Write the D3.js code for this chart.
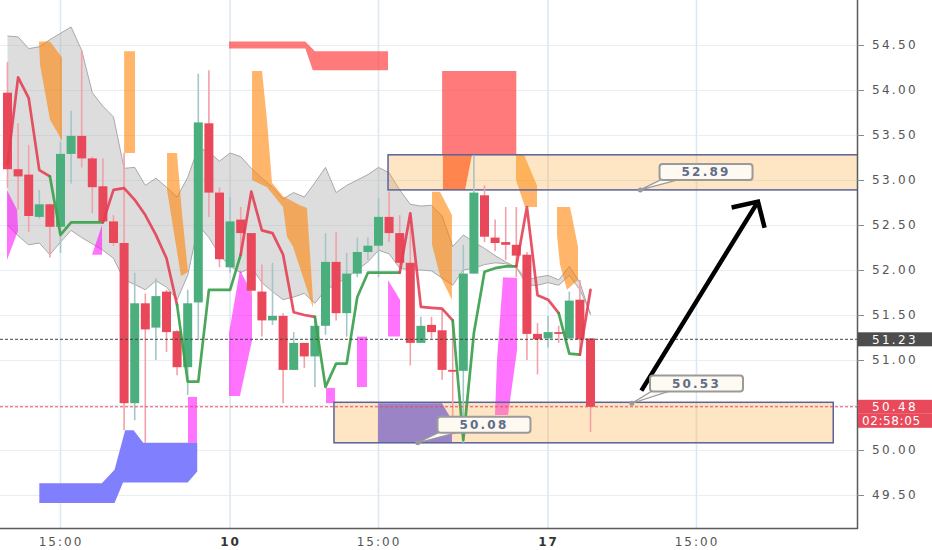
<!DOCTYPE html>
<html><head><meta charset="utf-8">
<script src="https://cdnjs.cloudflare.com/ajax/libs/d3/7.8.5/d3.min.js"></script>
<style>html,body{margin:0;padding:0;background:#fff;}svg{display:block;}</style>
</head><body>
<svg id="chart" width="932" height="550"></svg>
<script>
// ---------- DATA ----------
const opens  = [53.97,53.12,53.06,52.59,52.73,52.48,53.29,53.49,53.24,52.93,
                52.54,52.30,50.52,51.63,51.36,51.76,51.32,50.92,51.64,53.63,
                52.86,52.03,52.56,52.41,51.76,51.44,51.49,50.89,51.19,51.04,
                51.38,52.09,51.52,51.96,52.20,52.27,52.59,52.41,52.08,51.19,
                51.39,51.33,50.89,50.88,51.96,52.83,52.36,52.31,52.28,52.17,
                51.29,51.24,51.31,51.24,51.67,51.24];
const highs  = [54.31,53.63,53.39,52.89,52.74,53.42,53.77,54.44,53.26,53.24,
                52.61,53.30,51.97,51.74,51.91,51.78,51.33,51.78,54.18,54.22,
                52.92,52.81,52.70,52.41,52.06,52.08,51.52,51.31,51.19,51.48,
                52.41,52.42,52.19,52.36,52.36,52.80,52.87,52.61,52.64,51.48,
                51.48,51.56,51.44,52.28,53.27,52.94,52.56,52.70,52.70,52.20,
                51.41,51.49,51.38,51.76,51.89,51.24];
const lows   = [52.91,52.67,52.42,52.57,52.14,52.19,52.96,53.14,52.63,52.52,
                52.27,50.22,50.33,50.08,51.00,51.09,50.83,50.61,51.22,52.59,
                52.03,51.97,52.19,51.72,51.26,51.39,50.52,50.89,50.91,50.70,
                51.28,51.44,51.26,51.92,52.11,51.92,52.31,52.03,50.94,51.19,
                51.24,50.78,50.36,50.08,51.96,52.31,52.21,52.11,51.92,51.00,
                50.84,51.14,51.19,51.23,51.06,50.20];
const closes = [53.12,53.04,52.60,52.73,52.48,53.29,53.49,53.24,52.92,52.54,
                52.30,50.52,51.63,51.34,51.71,51.31,50.92,51.63,53.64,52.86,
                52.12,52.54,52.41,51.77,51.44,51.49,50.89,51.19,51.04,51.38,
                52.09,51.52,51.96,52.20,52.27,52.59,52.41,52.08,51.19,51.38,
                51.31,50.89,50.87,51.96,52.86,52.37,52.30,52.28,52.16,51.29,
                51.23,51.31,51.29,51.66,51.23,50.48];

// trailing stop line and its direction (1 = up/green, -1 = down/red)
const trendLine = [53.17,54.14,53.91,53.11,53.04,52.39,52.53,52.53,52.53,52.53,
                   52.89,52.91,52.78,52.61,52.39,52.13,51.61,50.76,50.76,51.78,
                   51.78,51.78,52.17,52.87,52.44,52.41,52.17,51.53,51.50,51.48,
                   50.70,50.96,50.96,51.70,51.97,51.97,51.97,51.97,52.63,51.59,
                   51.58,51.57,51.44,50.11,51.30,51.98,52.02,52.04,52.04,52.70,
                   51.72,51.67,51.52,51.07,51.06,51.78];
const trendDir  = [-1,-1,-1,-1,-1, 1,1,1,1,1, -1,-1,-1,-1,-1,-1,-1, 1,1,1,1,1,1,
                   -1,-1,-1,-1,-1,-1,-1, 1,1,1,1,1,1,1,1, -1,-1,-1,-1,-1,
                   1,1,1,1,1,1, -1,-1,-1,-1, 1,1, -1];

// grey cloud band
const cloudUpper = [54.60,54.59,54.46,54.48,54.56,54.63,54.70,54.44,53.97,53.82,
                    53.70,53.13,53.14,52.94,53.02,52.92,52.81,53.03,53.36,53.31,
                    53.21,53.30,53.26,53.13,53.02,52.92,52.79,52.86,52.81,52.97,
                    53.14,52.86,52.94,53.00,53.06,53.14,53.08,52.89,52.73,52.71,
                    52.72,52.60,52.26,52.39,52.31,52.24,52.16,52.09,52.03,51.89,
                    51.92,51.94,51.89,52.04,51.86,51.50];
const cloudLower = [52.50,52.38,52.28,52.30,52.17,52.31,52.44,52.36,52.29,52.22,
                    52.13,51.89,51.84,51.78,51.88,51.81,51.67,51.94,52.50,52.36,
                    52.17,52.04,51.97,52.03,51.86,51.76,51.67,51.70,51.74,51.63,
                    51.78,51.84,51.92,52.00,52.09,52.22,52.18,52.02,52.00,52.00,
                    51.99,51.91,51.83,52.00,52.02,52.06,52.08,52.07,52.03,51.83,
                    51.83,51.86,51.83,51.94,51.78,51.52];

// indicator shapes as [barIndex, price] vertices
const orangeShapes = [
  [[2.97,54.54],[4.01,54.54],[5.14,54.36],[5.14,53.44],[4.01,53.67],[3.07,54.28]],
  [[11.0,54.43],[12.03,54.43],[12.03,53.30],[11.0,53.30]],
  [[15.05,53.30],[15.99,53.30],[16.46,52.63],[17.03,51.98],[16.37,51.93],[15.61,52.48],[15.05,52.89]],
  [[23.07,54.21],[24.01,54.21],[24.48,53.67],[24.95,52.97],[25.99,52.82],[27.59,52.72],[28.25,52.69],
   [28.82,51.67],[28.82,51.58],[27.88,51.92],[26.93,52.26],[26.37,52.37],[25.99,52.70],[24.48,52.92],[23.07,53.00]],
  [[40.05,52.87],[40.8,52.87],[41.93,52.61],[41.93,51.67],[40.8,51.94],[40.05,52.28]],
  [[47.97,53.28],[48.73,53.28],[49.95,52.94],[49.95,52.70],[48.82,52.70],[47.97,53.00]],
  [[51.84,52.70],[53.07,52.70],[53.82,52.26],[53.82,51.89],[52.78,51.78],[52.12,52.06],[51.84,52.39]]
];
const redShapes = [
  [[20.9,54.54],[28.1,54.54],[29.0,54.43],[35.9,54.43],[35.9,54.22],[28.8,54.22],[28.1,54.46],[20.9,54.46]],
  [[41.0,54.21],[48.0,54.21],[48.0,53.28],[41.0,53.28]]
];
const coralShapes = [[[41.08,53.28],[43.82,53.28],[43.16,52.89],[41.08,52.89]]];
const blueShapes = [
  [[3.0,49.63],[8.9,49.63],[10.1,49.78],[11.1,50.22],[11.9,50.22],[12.8,50.08],[17.9,50.08],
   [17.9,49.76],[17.0,49.64],[10.9,49.64],[10.1,49.41],[3.0,49.41]]
];
const purpleShapes = [[[34.95,50.52],[40.99,50.52],[41.93,50.33],[41.93,50.08],[34.95,50.08]]];
const pinkShapes = [
  [[-0.05,52.89],[0.9,52.67],[1.0,52.44],[-0.05,52.11]],
  [[7.97,52.17],[8.92,52.50],[8.92,52.17]],
  [[17.03,50.59],[17.88,50.59],[17.88,50.08],[17.03,50.08]],
  [[21.93,52.00],[23.07,51.74],[23.07,51.22],[21.93,50.60],[20.9,50.60],[20.9,51.30]],
  [[35.9,51.89],[37.03,51.67],[37.03,51.26],[35.9,51.26]],
  [[32.97,51.26],[33.92,51.26],[33.92,50.70],[32.97,50.70]],
  [[30.05,50.69],[30.9,50.69],[30.9,50.52],[30.05,50.52]],
  [[46.75,51.92],[48.07,51.91],[48.07,51.11],[47.22,50.39],[45.99,50.39],[46.18,51.0]]
];

// drawings
const zoneStart  = [35.9, 30.8];
const zoneEnd    = [90, 77.9];
const zoneTop    = [53.28, 50.53];
const zoneBottom = [52.89, 50.08];
const calloutText   = ["52.89", "50.53", "50.08"];
const calloutAnchor = [[59.7,52.89],[58.9,50.52],[38.7,50.08]];
const calloutBox    = [[65.9,53.09],[65.0,50.74],[44.95,50.28]];
const arrowFrom = [59.8, 50.66];
const arrowTo   = [70.8, 52.76];

// axes
const priceTicks = [49.5,50,50.5,51,51.5,52,52.5,53,53.5,54,54.5];
const timeTickIdx = [5,21,35,51,65];
const timeTickLabels = ["15:00","10","15:00","17","15:00"];
const timeTickBold = [false,true,false,true,false];
const markPrice = 51.23;
const lastPrice = 50.48;
const countdown = "02:58:05";

// ---------- DRAW ----------
const plotW = 857, plotH = 528;
const svg = d3.select('#chart');
const x = d3.scaleLinear().domain([0, 80]).range([7.5, 855.5]);
const y = d3.scaleLinear().domain([49.5, 54.5]).range([495, 45]);
const FONT = "'DejaVu Sans', 'Liberation Sans', sans-serif";

svg.append('defs').append('clipPath').attr('id','plotClip')
  .append('rect').attr('x',0).attr('y',0).attr('width',plotW).attr('height',plotH);
const plot = svg.append('g').attr('clip-path','url(#plotClip)');

// grid
plot.append('g').selectAll('line').data(priceTicks).join('line')
  .attr('x1',0).attr('x2',plotW)
  .attr('y1',d=>Math.round(y(d))+0.5).attr('y2',d=>Math.round(y(d))+0.5)
  .attr('stroke','#e8eff4').attr('stroke-width',1);
plot.append('g').selectAll('line').data(timeTickIdx).join('line')
  .attr('x1',d=>x(d)).attr('x2',d=>x(d)).attr('y1',0).attr('y2',plotH)
  .attr('stroke','#dde9f1').attr('stroke-width',1.6);

// cloud
const cloudData = cloudUpper.map((u,i)=>({i, u, l: cloudLower[i]}));
plot.append('path').datum(cloudData)
  .attr('d', d3.area().x(d=>x(d.i)).y0(d=>y(d.l)).y1(d=>y(d.u)))
  .attr('fill','rgba(165,165,165,0.38)');
['u','l'].forEach(k=>{
  plot.append('path').datum(cloudData)
    .attr('d', d3.line().x(d=>x(d.i)).y(d=>y(d[k])))
    .attr('fill','none').attr('stroke','#a9a9a9').attr('stroke-width',1);
});

const poly = d3.line().x(d=>x(d[0])).y(d=>y(d[1]));
function drawShapes(arr, fill){
  plot.append('g').selectAll('path').data(arr).join('path')
    .attr('d', d=>poly(d)+'Z').attr('fill', fill);
}
drawShapes(orangeShapes, 'rgba(255,130,0,0.58)');
drawShapes(redShapes, 'rgba(255,60,60,0.68)');
drawShapes(blueShapes, '#8080ff');
drawShapes(pinkShapes, 'rgba(255,0,255,0.55)');

// zone boxes
const zones = zoneStart.map((s,i)=>({s, e: zoneEnd[i], t: zoneTop[i], b: zoneBottom[i]}));
plot.append('g').selectAll('rect').data(zones).join('rect')
  .attr('x',d=>x(d.s)).attr('y',d=>y(d.t)).attr('width',d=>x(d.e)-x(d.s)).attr('height',d=>y(d.b)-y(d.t))
  .attr('fill','rgba(252,170,60,0.3)');
drawShapes(coralShapes, 'rgba(255,100,40,0.75)');
drawShapes(purpleShapes, '#9b84c5');
plot.append('g').selectAll('rect').data(zones).join('rect')
  .attr('x',d=>x(d.s)).attr('y',d=>y(d.t)).attr('width',d=>x(d.e)-x(d.s)).attr('height',d=>y(d.b)-y(d.t))
  .attr('fill','none').attr('stroke','#5a629a').attr('stroke-width',1.5);

// candles
const idx = d3.range(opens.length);
const up = i => closes[i] >= opens[i];
const cg = plot.append('g');
cg.selectAll('line').data(idx).join('line')
  .attr('x1',i=>x(i)).attr('x2',i=>x(i)).attr('y1',i=>y(highs[i])).attr('y2',i=>y(lows[i]))
  .attr('stroke',i=>up(i)?'#a3c6c8':'#f3a0a9').attr('stroke-width',1.6);
cg.selectAll('rect').data(idx).join('rect')
  .attr('x',i=>x(i)-4.5).attr('width',9)
  .attr('y',i=>y(Math.max(opens[i],closes[i])))
  .attr('height',i=>Math.max(1.5, Math.abs(y(opens[i])-y(closes[i]))))
  .attr('fill',i=>up(i)?'#4bae7d':'#e9485b');

// trend line runs
const runs = [];
for (let i=1;i<trendLine.length;i++){
  const dir = trendDir[i];
  if (!runs.length || runs[runs.length-1].dir !== dir) runs.push({dir, pts:[i-1]});
  runs[runs.length-1].pts.push(i);
}
plot.append('g').selectAll('path').data(runs).join('path')
  .attr('d', r=>d3.line().x(i=>x(i)).y(i=>y(trendLine[i]))(r.pts))
  .attr('fill','none').attr('stroke-linejoin','round').attr('stroke-linecap','round')
  .attr('stroke',r=>r.dir>0?'rgba(60,160,75,0.92)':'rgba(228,60,80,0.88)')
  .attr('stroke-width',2.7);

// price lines
plot.append('line').attr('x1',0).attr('x2',plotW).attr('y1',y(markPrice)).attr('y2',y(markPrice))
  .attr('stroke','#444').attr('stroke-width',1).attr('stroke-dasharray','3,2');
plot.append('line').attr('x1',0).attr('x2',plotW).attr('y1',y(lastPrice)).attr('y2',y(lastPrice))
  .attr('stroke','#e84a5c').attr('stroke-width',1).attr('stroke-dasharray','3,2');

// arrow
const ax0 = x(arrowFrom[0]), ay0 = y(arrowFrom[1]), ax1 = x(arrowTo[0]), ay1 = y(arrowTo[1]);
const ang = Math.atan2(ay0-ay1, ax0-ax1);
const wing = 27, spread = 0.8;
plot.append('path')
  .attr('d', `M${ax0},${ay0}L${ax1},${ay1}M${ax1+wing*Math.cos(ang+spread)},${ay1+wing*Math.sin(ang+spread)}L${ax1},${ay1}L${ax1+wing*Math.cos(ang-spread)},${ay1+wing*Math.sin(ang-spread)}`)
  .attr('fill','none').attr('stroke','#000').attr('stroke-width',4.5).attr('stroke-linecap','butt').attr('stroke-linejoin','miter');

// callouts
const cw = 93, ch = 16;
const callouts = calloutText.map((t,i)=>({t, a: calloutAnchor[i], b: calloutBox[i]}));
const clg = plot.append('g').selectAll('g').data(callouts).join('g');
clg.append('path')
  .attr('d', d=>{
    const l = x(d.b[0]) - cw/2, bt = y(d.b[1]) + ch/2;
    return `M${x(d.a[0])},${y(d.a[1])}L${l+3},${bt-1}L${l+22},${bt-1}Z`;
  })
  .attr('fill','#fdfbf6').attr('stroke','#9a9a9a').attr('stroke-width',1.2);
clg.append('circle').attr('cx',d=>x(d.a[0])).attr('cy',d=>y(d.a[1])).attr('r',2.5).attr('fill','#999');
clg.append('rect')
  .attr('x',d=>x(d.b[0])-cw/2).attr('y',d=>y(d.b[1])-ch/2).attr('width',cw).attr('height',ch)
  .attr('rx',3).attr('fill','#fffaf1').attr('stroke','#9a9a9a').attr('stroke-width',2);
clg.append('text')
  .attr('x',d=>x(d.b[0])).attr('y',d=>y(d.b[1])).attr('dy','0.36em')
  .attr('text-anchor','middle').attr('fill','#5e6d8a')
  .style('font-family',FONT).style('font-size','12px').style('font-weight','bold')
  .attr('letter-spacing','2.2px').text(d=>d.t);

// borders
svg.append('line').attr('x1',plotW+0.5).attr('x2',plotW+0.5).attr('y1',0).attr('y2',plotH+1)
  .attr('stroke','#5a5a5a').attr('stroke-width',1.5);
svg.append('line').attr('x1',0).attr('x2',plotW+1).attr('y1',plotH+0.5).attr('y2',plotH+0.5)
  .attr('stroke','#5a5a5a').attr('stroke-width',1.5);

// right axis
const ra = svg.append('g').attr('transform',`translate(${plotW},0)`)
  .call(d3.axisRight(y).tickValues(priceTicks).tickFormat(d=>d.toFixed(2)).tickSize(7).tickPadding(8));
ra.select('.domain').remove();
ra.selectAll('line').attr('stroke','#8a8a8a');
ra.selectAll('text').attr('fill','#555').style('font-family',FONT).style('font-size','12px')
  .attr('letter-spacing','2.3px');

// bottom axis
const ba = svg.append('g').attr('transform',`translate(0,${plotH})`)
  .call(d3.axisBottom(x).tickValues(timeTickIdx).tickFormat((d,i)=>timeTickLabels[i]).tickSize(0).tickPadding(9));
ba.select('.domain').remove();
ba.selectAll('text').attr('fill',(d,i)=>timeTickBold[i]?'#333':'#555')
  .style('font-family',FONT).style('font-size','12px')
  .style('font-weight',(d,i)=>timeTickBold[i]?'bold':'normal')
  .attr('letter-spacing','2px');

// price tags
const tags = [
  {yy: y(markPrice), text: markPrice.toFixed(2), fill:'#4d4d4d', tx: 872, ls: '2.3px'},
  {yy: y(lastPrice), text: lastPrice.toFixed(2), fill:'#e84a5c', tx: 872, ls: '2.3px'},
  {yy: y(lastPrice)+14, text: countdown, fill:'#e84a5c', tx: 862, ls: '0.6px'}
];
const tg = svg.append('g').selectAll('g').data(tags).join('g');
tg.append('rect').attr('x',plotW+1).attr('y',d=>d.yy-7).attr('width',932-plotW).attr('height',14).attr('fill',d=>d.fill);
tg.append('text').attr('x',d=>d.tx).attr('y',d=>d.yy).attr('dy','0.36em')
  .attr('fill','#fff').style('font-family',FONT).style('font-size','12px')
  .attr('letter-spacing',d=>d.ls).text(d=>d.text);
</script>
</body></html>
